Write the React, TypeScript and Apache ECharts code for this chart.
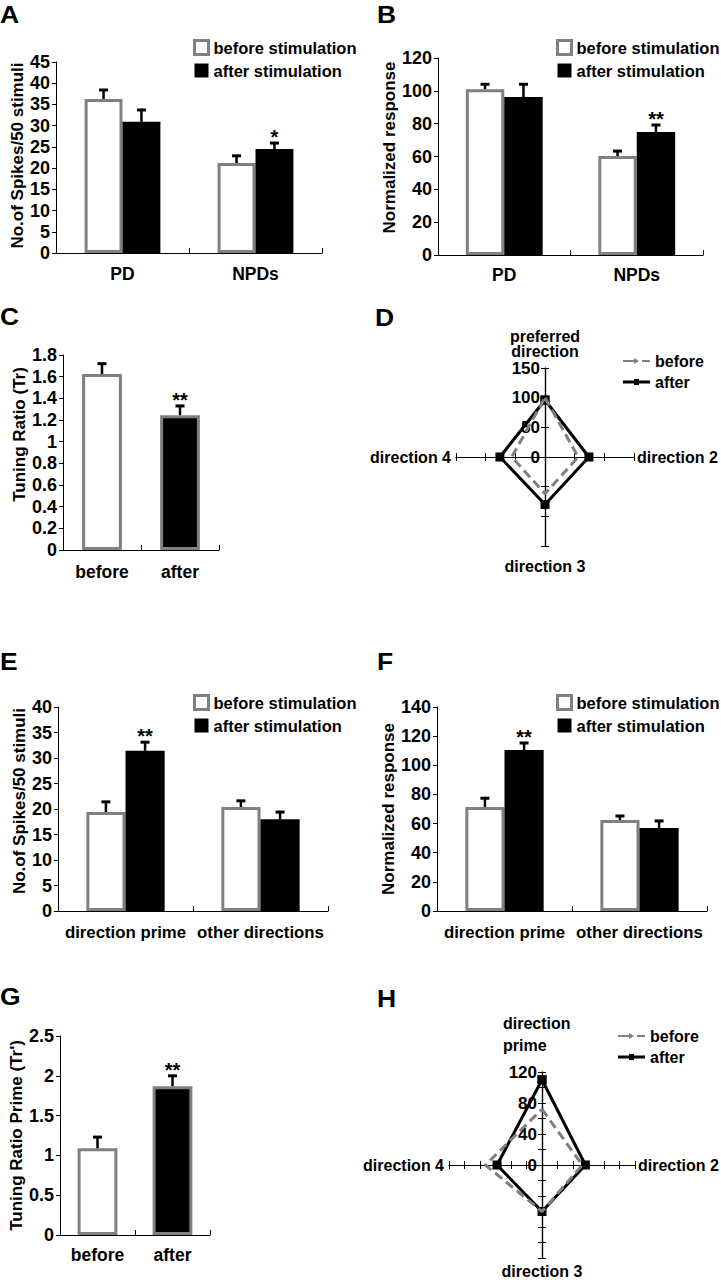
import React, { useEffect, useRef } from 'react';
import * as echarts from 'echarts';

const FONT = '"Liberation Sans", Arial, Helvetica, sans-serif';
const GRAY = '#808080';

// ---------- Panel A ----------
const catsA = ['PD', 'NPDs'];
const aBefore = [36.3, 21.2];
const aBeforeErr = [2.1, 1.7];
const aAfter = [30.9, 24.5];
const aAfterErr = [2.8, 1.4];
const aSigBefore = ['', ''];
const aSigAfter = ['', '*'];

// ---------- Panel B ----------
const catsB = ['PD', 'NPDs'];
const bBefore = [101, 60.3];
const bBeforeErr = [3, 3];
const bAfter = [96.2, 74.9];
const bAfterErr = [7.8, 4.3];
const bSigBefore = ['', ''];
const bSigAfter = ['', '**'];

// ---------- Panel C ----------
const catsC = ['before', 'after'];
const cValues = [1.625, 1.245];
const cErr = [0.095, 0.085];
const cSig = ['', '**'];

// ---------- Panel D (top, direction 2, direction 3, direction 4) ----------
const dBefore = [100, 56, 62, 56];
const dAfter = [96, 74, 80, 76];

// ---------- Panel E ----------
const catsE = ['direction prime', 'other directions'];
const eBefore = [19.4, 20.4];
const eBeforeErr = [2.0, 1.2];
const eAfter = [31.4, 18.0];
const eAfterErr = [1.7, 1.4];
const eSigBefore = ['', ''];
const eSigAfter = ['**', ''];

// ---------- Panel F ----------
const catsF = ['direction prime', 'other directions'];
const fBefore = [71.4, 62.5];
const fBeforeErr = [6.0, 2.7];
const fAfter = [110.5, 57];
const fAfterErr = [4.8, 4.8];
const fSigBefore = ['', ''];
const fSigAfter = ['**', ''];

// ---------- Panel G ----------
const catsG = ['before', 'after'];
const gValues = [1.09, 1.87];
const gErr = [0.14, 0.13];
const gSig = ['', '**'];

// ---------- Panel H (direction prime, direction 2, direction 3, direction 4) ----------
const hBefore = [72, 52, 60, 73];
const hAfter = [110, 56, 60, 58];

const legendBar = ['before stimulation', 'after stimulation'];
const legendLine = ['before', 'after'];

const BEFORE_STYLE = { color: '#ffffff', borderColor: GRAY, borderWidth: 3 };
const AFTER_STYLE = { color: '#000000' };

const ICON_BEFORE = 'path://M0,4L11,4L11,2L16,5L11,8L11,6L0,6ZM19,4L27,4L27,6L19,6Z';
const ICON_AFTER = 'path://M0,3.5L27,3.5L27,6.5L0,6.5ZM11,2L16,2L16,8L11,8Z';

export default function App() {
  const ref = useRef<HTMLDivElement>(null);

  useEffect(() => {
    document.body.style.margin = '0';
    if (!ref.current) return;
    const chart = echarts.init(ref.current, undefined, { renderer: 'svg' });

    const grids: any[] = [];
    const xAxes: any[] = [];
    const yAxes: any[] = [];
    const series: any[] = [];
    const legends: any[] = [];
    const graphics: any[] = [];

    const txt = (size: number) => ({
      color: '#000',
      fontSize: size,
      fontWeight: 'bold',
      fontFamily: FONT,
    });

    function addBarPanel(cfg: any) {
      const gi = grids.length;
      grids.push({ ...cfg.grid, containLabel: false, outerBoundsMode: 'none' });
      const xi = xAxes.length;
      xAxes.push({
        type: 'category',
        gridIndex: gi,
        data: cfg.categories,
        axisLine: { show: true, lineStyle: { color: '#000', width: 1 } },
        axisTick: { show: true, inside: true, length: 5, lineStyle: { color: '#000' } },
        axisLabel: { interval: 0, margin: cfg.labelMargin, ...txt(cfg.xFont || 17.5) },
        splitLine: { show: false },
      });
      const yi = yAxes.length;
      yAxes.push({
        type: 'value',
        gridIndex: gi,
        min: 0,
        max: cfg.max,
        interval: cfg.interval,
        splitLine: { show: false },
        axisLine: { show: true, lineStyle: { color: '#000', width: 1 } },
        axisTick: { show: true, length: 4, lineStyle: { color: '#000' } },
        axisLabel: { margin: 6, ...txt(18) },
        name: cfg.yName,
        nameLocation: 'middle',
        nameRotate: 90,
        nameGap: cfg.nameGap,
        nameTextStyle: {
          ...txt(17),
          padding: cfg.nameShift > 0 ? [0, 0, 0, 2 * cfg.nameShift] : [0, 0, 0, 0],
        },
      });
      const n = cfg.groups.length;
      const errData: any[] = [];
      const sigs: string[] = [];
      cfg.groups.forEach((g: any, k: number) => {
        const off = n === 1 ? 0 : k === 0 ? -1 : 1;
        series.push({
          type: 'bar',
          name: g.name,
          xAxisIndex: xi,
          yAxisIndex: yi,
          barWidth: cfg.barPct + '%',
          barGap: '0%',
          itemStyle: g.style,
          data: g.values.map((v: number, i: number) => ({
            value: v,
            itemStyle: g.styles ? g.styles[i] : g.style,
          })),
          z: 2,
        });
        g.values.forEach((v: number, i: number) => {
          errData.push([i, v, g.errs[i], off]);
          sigs.push(g.sig[i]);
        });
      });
      series.push({
        type: 'custom',
        name: 'error',
        xAxisIndex: xi,
        yAxisIndex: yi,
        z: 5,
        encode: { x: 0, y: 1 },
        data: errData,
        renderItem: (params: any, api: any) => {
          const cat = api.value(0);
          const v = api.value(1);
          const e = api.value(2);
          const off = api.value(3);
          const band = api.size([1, 0])[0];
          const half = (band * cfg.barPct) / 200;
          const p0 = api.coord([cat, v]);
          const p1 = api.coord([cat, v + e]);
          const x = p0[0] + off * half;
          const children: any[] = [
            { type: 'line', shape: { x1: x, y1: p0[1], x2: x, y2: p1[1] }, style: { stroke: '#000', lineWidth: 2.5 } },
            { type: 'line', shape: { x1: x - 4.5, y1: p1[1], x2: x + 4.5, y2: p1[1] }, style: { stroke: '#000', lineWidth: 3 } },
          ];
          const s = sigs[params.dataIndex];
          if (s) {
            children.push({
              type: 'text',
              style: {
                text: s,
                x,
                y: p1[1] + 4,
                align: 'center',
                verticalAlign: 'bottom',
                fontSize: 20,
                fontWeight: 'bold',
                fontFamily: FONT,
                fill: '#000',
              },
            });
          }
          return { type: 'group', children };
        },
      });
      if (cfg.legend) {
        legends.push({
          left: cfg.legend.left,
          top: cfg.legend.top,
          padding: 0,
          orient: 'vertical',
          icon: 'rect',
          itemWidth: 14,
          itemHeight: 14,
          itemGap: 6,
          selectedMode: false,
          textStyle: { ...txt(16.5) },
          data: [
            { name: legendBar[0], itemStyle: BEFORE_STYLE },
            { name: legendBar[1], itemStyle: AFTER_STYLE },
          ],
        });
      }
    }

    const toXY = (vals: number[]) => {
      const [t, r, b, l] = vals;
      return [[0, t], [r, 0], [0, -b], [-l, 0], [0, t]];
    };

    function addRadarPanel(cfg: any) {
      const gi = grids.length;
      grids.push({ ...cfg.grid, containLabel: false, outerBoundsMode: 'none' });
      const halfW = cfg.grid.width / 2;
      const halfH = cfg.grid.height / 2;
      const common = {
        type: 'value',
        gridIndex: gi,
        min: -cfg.max,
        max: cfg.max,
        interval: cfg.interval,
        splitLine: { show: false },
        axisLine: { show: true, onZero: false, lineStyle: { color: '#000', width: 1.2 } },
        axisTick: { show: true, length: 4, lineStyle: { color: '#000' } },
        axisLabel: { show: false },
        nameTextStyle: { ...txt(16), lineHeight: 15 },
      };
      const xi = xAxes.length;
      xAxes.push({ ...common, position: 'bottom', offset: -halfH, name: cfg.names[1], nameLocation: 'end', nameGap: 3 });
      xAxes.push({ ...common, position: 'top', offset: -halfH, name: cfg.names[3], nameLocation: 'start', nameGap: 5 });
      const yi = yAxes.length;
      yAxes.push({
        ...common,
        position: 'left',
        offset: -halfW,
        axisLabel: {
          show: true,
          margin: 5,
          ...txt(17),
          formatter: (v: number) => (v >= 0 && v % cfg.labelEvery === 0 ? String(v) : ''),
        },
        name: cfg.names[0],
        nameLocation: 'end',
        nameGap: cfg.topGap,
      });
      yAxes.push({ ...common, position: 'right', offset: -halfW, name: cfg.names[2], nameLocation: 'start', nameGap: cfg.bottomGap });
      series.push({
        type: 'line',
        name: legendLine[1],
        xAxisIndex: xi,
        yAxisIndex: yi,
        data: toXY(cfg.after),
        symbol: 'rect',
        symbolSize: 9,
        lineStyle: { color: '#000', width: 3 },
        itemStyle: { color: '#000' },
        z: 3,
      });
      series.push({
        type: 'line',
        name: legendLine[0],
        xAxisIndex: xi,
        yAxisIndex: yi,
        data: toXY(cfg.before),
        symbol: 'none',
        lineStyle: { color: GRAY, width: 3, type: [9, 5] },
        itemStyle: { color: GRAY },
        z: 4,
      });
      legends.push({
        left: cfg.legend.left,
        top: cfg.legend.top,
        padding: 0,
        orient: 'vertical',
        itemWidth: 27,
        itemHeight: 10,
        itemGap: 5,
        selectedMode: false,
        textStyle: { ...txt(16) },
        data: [
          { name: legendLine[0], icon: ICON_BEFORE },
          { name: legendLine[1], icon: ICON_AFTER },
        ],
      });
    }

    // A
    addBarPanel({
      grid: { left: 56, top: 62, width: 266, height: 191 },
      categories: catsA, max: 45, interval: 5,
      yName: 'No.of Spikes/50 stimuli', nameGap: 28, nameShift: 2, labelMargin: 12,
      barPct: 28.5,
      groups: [
        { name: legendBar[0], values: aBefore, errs: aBeforeErr, sig: aSigBefore, style: BEFORE_STYLE },
        { name: legendBar[1], values: aAfter, errs: aAfterErr, sig: aSigAfter, style: AFTER_STYLE },
      ],
      legend: { left: 193, top: 39 },
    });
    // B
    addBarPanel({
      grid: { left: 438, top: 58, width: 265, height: 197 },
      categories: catsB, max: 120, interval: 20,
      yName: 'Normalized response', nameGap: 39, nameShift: 9, labelMargin: 11,
      barPct: 29,
      groups: [
        { name: legendBar[0], values: bBefore, errs: bBeforeErr, sig: bSigBefore, style: BEFORE_STYLE },
        { name: legendBar[1], values: bAfter, errs: bAfterErr, sig: bSigAfter, style: AFTER_STYLE },
      ],
      legend: { left: 556, top: 39 },
    });
    // C
    addBarPanel({
      grid: { left: 63, top: 355, width: 156, height: 195 },
      categories: catsC, max: 1.8, interval: 0.2,
      yName: 'Tuning Ratio (Tr)', nameGap: 34, nameShift: 18, labelMargin: 13,
      barPct: 51,
      groups: [
        { name: 'Tr', values: cValues, errs: cErr, sig: cSig, style: BEFORE_STYLE, styles: [BEFORE_STYLE, AFTER_STYLE] },
      ],
    });
    // D
    addRadarPanel({
      grid: { left: 456, top: 368, width: 178, height: 178 },
      max: 150, interval: 50, labelEvery: 50,
      names: ['preferred\ndirection', 'direction 2', 'direction 3', 'direction 4'],
      topGap: 5, bottomGap: 13,
      before: dBefore, after: dAfter,
      legend: { left: 623, top: 353 },
    });
    // E
    addBarPanel({
      grid: { left: 58, top: 707, width: 270, height: 204 },
      categories: catsE, max: 40, interval: 5,
      yName: 'No.of Spikes/50 stimuli', nameGap: 29, nameShift: 8, labelMargin: 13,
      barPct: 29, xFont: 16.8,
      groups: [
        { name: legendBar[0], values: eBefore, errs: eBeforeErr, sig: eSigBefore, style: BEFORE_STYLE },
        { name: legendBar[1], values: eAfter, errs: eAfterErr, sig: eSigAfter, style: AFTER_STYLE },
      ],
      legend: { left: 193, top: 694 },
    });
    // F
    addBarPanel({
      grid: { left: 437, top: 707, width: 270, height: 204 },
      categories: catsF, max: 140, interval: 20,
      yName: 'Normalized response', nameGap: 35, nameShift: 0, labelMargin: 13,
      barPct: 29, xFont: 16.8,
      groups: [
        { name: legendBar[0], values: fBefore, errs: fBeforeErr, sig: fSigBefore, style: BEFORE_STYLE },
        { name: legendBar[1], values: fAfter, errs: fAfterErr, sig: fSigAfter, style: AFTER_STYLE },
      ],
      legend: { left: 556, top: 694 },
    });
    // G
    addBarPanel({
      grid: { left: 60, top: 1036, width: 150, height: 199 },
      categories: catsG, max: 2.5, interval: 0.5,
      yName: "Tuning Ratio Prime (Tr')", nameGap: 34, nameShift: 0, labelMargin: 11,
      barPct: 53,
      groups: [
        { name: 'Trp', values: gValues, errs: gErr, sig: gSig, style: BEFORE_STYLE, styles: [BEFORE_STYLE, AFTER_STYLE] },
      ],
    });
    // H
    addRadarPanel({
      grid: { left: 449, top: 1072, width: 186, height: 186 },
      max: 120, interval: 20, labelEvery: 40,
      names: ['', 'direction 2', 'direction 3', 'direction 4'],
      topGap: 10, bottomGap: 6,
      before: hBefore, after: hAfter,
      legend: { left: 618, top: 1028 },
    });

    // panel letters
    const letters: [string, number, number][] = [
      ['A', 0, 15], ['B', 377, 15], ['C', 0, 317], ['D', 375, 318],
      ['E', 0, 662], ['F', 377, 662], ['G', 0, 997], ['H', 377, 999],
    ];
    letters.forEach(([t, x, y]) => {
      graphics.push({
        type: 'text',
        x, y,
        scaleX: 1.15,
        style: { text: t, fontSize: 23, fontWeight: 'bold', fontFamily: FONT, fill: '#000', verticalAlign: 'middle', align: 'left' },
      });
    });
    graphics.push({
      type: 'text',
      x: 503, y: 1012,
      style: { text: 'direction\nprime', fontSize: 16, fontWeight: 'bold', fontFamily: FONT, fill: '#000', lineHeight: 22, verticalAlign: 'top', align: 'left' },
    });

    chart.setOption({
      animation: false,
      backgroundColor: '#ffffff',
      tooltip: { show: false },
      grid: grids,
      xAxis: xAxes,
      yAxis: yAxes,
      legend: legends,
      series,
      graphic: graphics,
    });

    return () => chart.dispose();
  }, []);

  return <div ref={ref} style={{ width: 721, height: 1280 }} />;
}
